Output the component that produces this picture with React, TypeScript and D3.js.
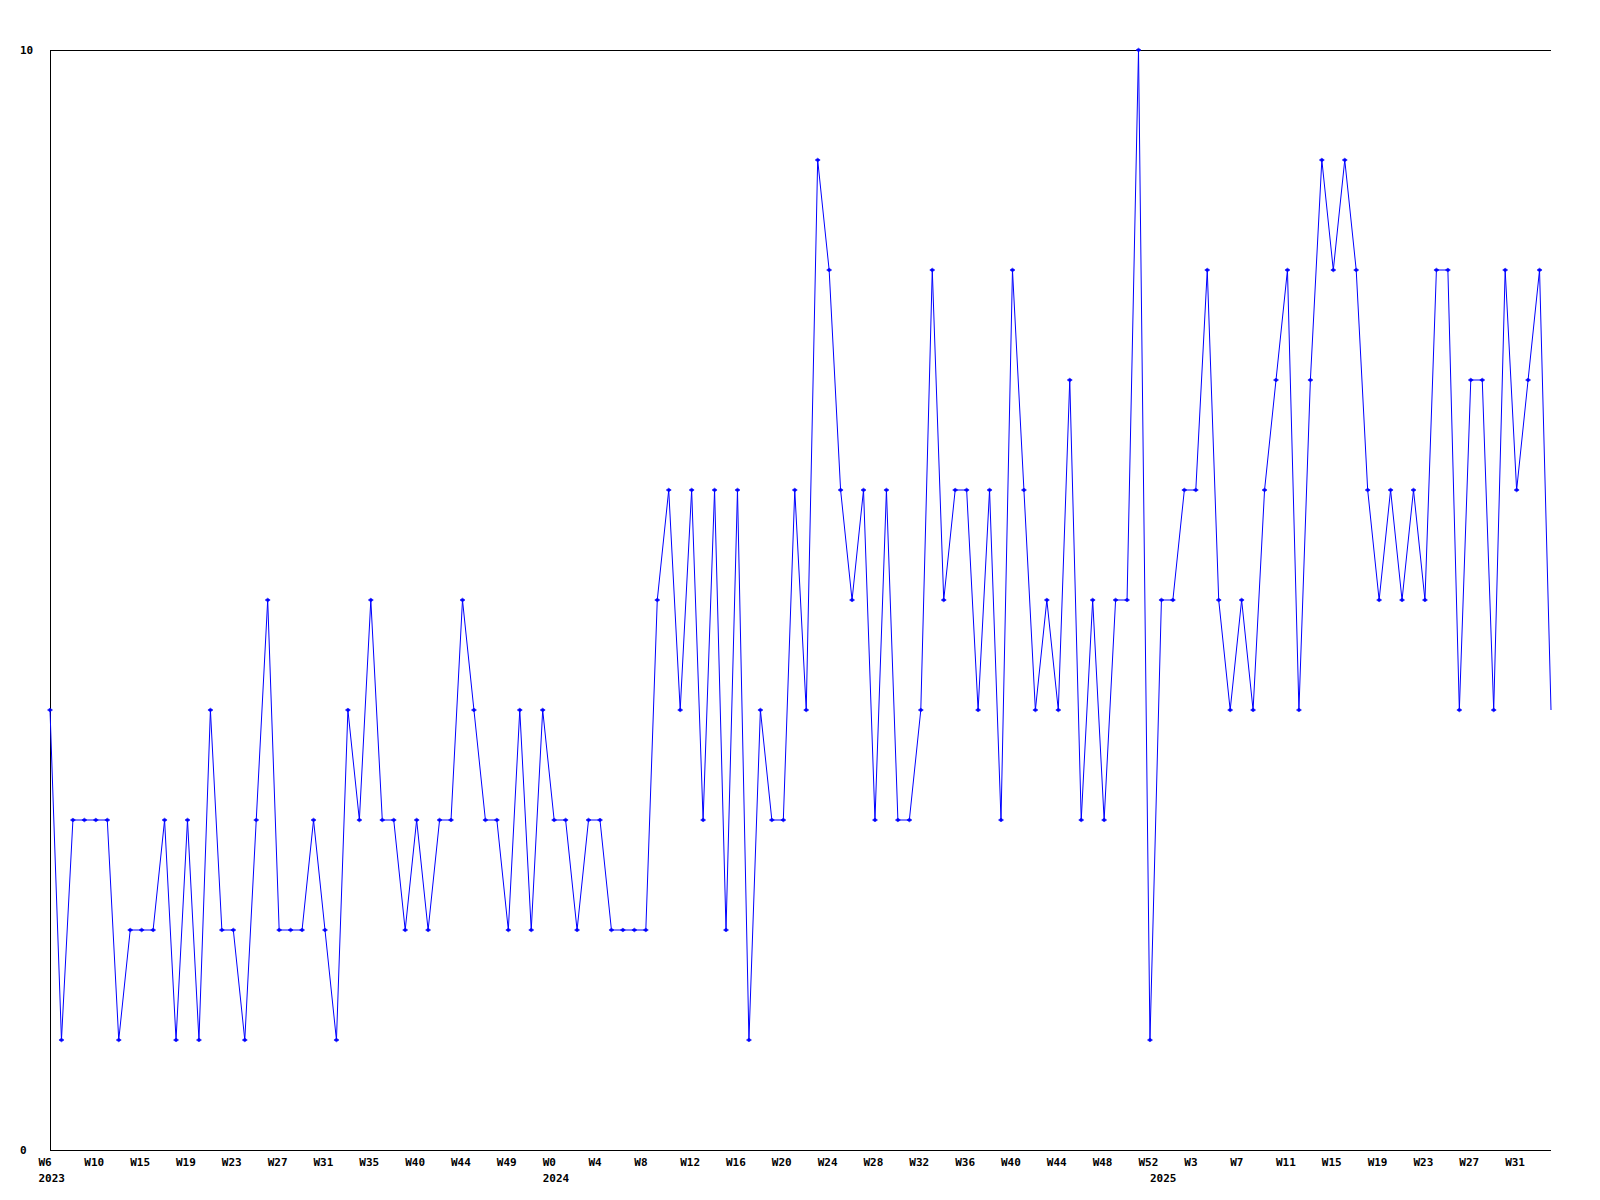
import React from "react";
import * as d3 from "d3";

const values: number[] = [
  4, 1, 3, 3, 3, 3, 1, 2, 2, 2, 3, 1, 3, 1, 4, 2, 2, 1, 3, 5,
  2, 2, 2, 3, 2, 1, 4, 3, 5, 3, 3, 2, 3, 2, 3, 3, 5, 4, 3, 3,
  2, 4, 2, 4, 3, 3, 2, 3, 3, 2, 2, 2, 2, 5, 6, 4, 6, 3, 6, 2,
  6, 1, 4, 3, 3, 6, 4, 9, 8, 6, 5, 6, 3, 6, 3, 3, 4, 8, 5, 6,
  6, 4, 6, 3, 8, 6, 4, 5, 4, 7, 3, 5, 3, 5, 5, 10, 1, 5, 5, 6,
  6, 8, 5, 4, 5, 4, 6, 7, 8, 4, 7, 9, 8, 9, 8, 6, 5, 6, 5, 6,
  5, 8, 8, 4, 7, 7, 4, 8, 6, 7, 8, 4,
];

const weekLabels: string[] = [
  "W6", "W10", "W15", "W19", "W23", "W27", "W31", "W35", "W40", "W44", "W49",
  "W0", "W4", "W8", "W12", "W16", "W20", "W24", "W28", "W32", "W36", "W40", "W44", "W48", "W52",
  "W3", "W7", "W11", "W15", "W19", "W23", "W27", "W31",
];
const labelStep = 4;

const yearLabels: string[] = ["2023", "2024", "2025"];
const yearStartIndex: number[] = [0, 44, 97];

const yTicks: number[] = [0, 10];

export default function App() {
  const W = 1600;
  const H = 1200;
  const left = 50;
  const right = 1551;
  const top = 50;
  const bottom = 1150;

  const x = d3.scaleLinear().domain([0, values.length - 1]).range([left, right]);
  const y = d3.scaleLinear().domain([0, 10]).range([bottom, top]);

  const line = d3
    .line<number>()
    .x((_, i) => x(i))
    .y((d) => y(d));

  const font = "'DejaVu Sans Mono', monospace";

  return (
    <svg
      width={W}
      height={H}
      style={{ position: "absolute", left: 0, top: 0, background: "#fff" }}
      shapeRendering="crispEdges"
    >
      <rect x={0} y={0} width={W} height={H} fill="#fff" />
      {/* top line */}
      <line x1={left} x2={right} y1={y(10) + 0.5} y2={y(10) + 0.5} stroke="#000" strokeWidth={1} />
      {/* left axis */}
      <line x1={left + 0.5} x2={left + 0.5} y1={top} y2={bottom} stroke="#000" strokeWidth={1} />
      {/* bottom axis */}
      <line x1={left} x2={right} y1={bottom + 0.5} y2={bottom + 0.5} stroke="#000" strokeWidth={1} />

      {yTicks.map((t) => (
        <text
          key={t}
          x={20}
          y={y(t) + 4}
          fontFamily={font}
          fontWeight="bold"
          fontSize={11}
          fill="#000"
        >
          {t}
        </text>
      ))}

      <path
        d={line(values) || ""}
        fill="none"
        stroke="#0000ff"
        strokeWidth={1}
        shapeRendering="auto"
      />

      {values.slice(0, values.length - 1).map((v, i) => {
        const cx = x(i);
        const cy = y(v);
        return (
          <path
            key={i}
            d={`M${cx - 2.5},${cy} L${cx},${cy - 1.8} L${cx + 2.5},${cy} L${cx},${cy + 1.8} Z`}
            fill="#0000ff"
            stroke="#0000ff"
            strokeWidth={0.6}
            shapeRendering="auto"
          />
        );
      })}

      {weekLabels.map((lab, k) => (
        <text
          key={"w" + k}
          x={x(k * labelStep) - 11.5}
          y={1166}
          fontFamily={font}
          fontWeight="bold"
          fontSize={11}
          fill="#000"
        >
          {lab}
        </text>
      ))}

      {yearLabels.map((lab, k) => (
        <text
          key={"y" + k}
          x={x(yearStartIndex[k]) - 11.5}
          y={1182}
          fontFamily={font}
          fontWeight="bold"
          fontSize={11}
          fill="#000"
        >
          {lab}
        </text>
      ))}
    </svg>
  );
}
